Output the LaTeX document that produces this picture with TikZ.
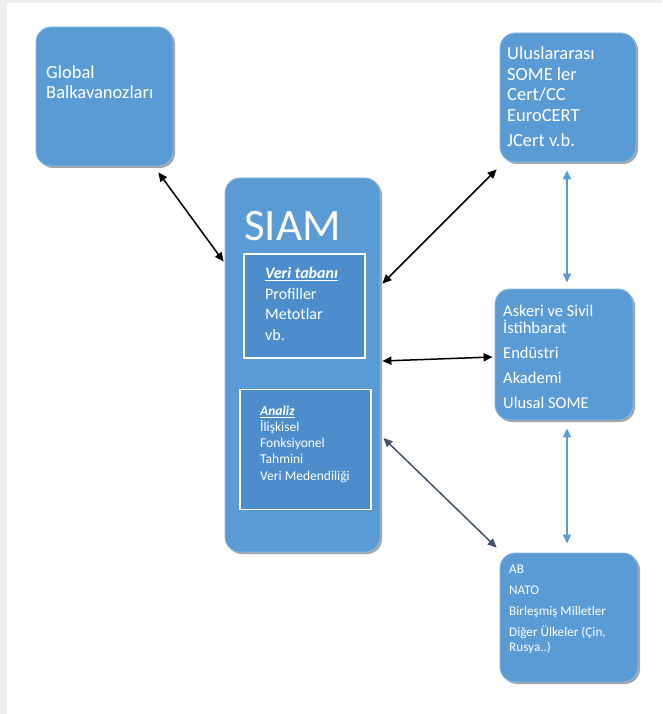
\documentclass[tikz,border=0pt]{standalone}
\usepackage{fontspec}
\setmainfont{Carlito}
\usepackage{tikz}
\usetikzlibrary{arrows.meta, positioning, shadows}

\definecolor{boxblue}{RGB}{91,155,213}
\definecolor{innerblue}{RGB}{78,141,204}
\definecolor{slate}{RGB}{68,84,106}
\definecolor{framegray}{RGB}{238,238,238}

\tikzset{
  bigbox/.style={rounded corners=15pt, fill=boxblue, draw=boxblue!70!white, line width=0.8pt,
    drop shadow={shadow xshift=2pt, shadow yshift=-2pt, fill=black!70, opacity=0.5}},
  innerbox/.style={draw=white, line width=1.8pt, fill=innerblue},
  boxtext/.style={anchor=base west, inner sep=0pt, align=left, text=white},
  blkarrow/.style={{Triangle[length=9pt,width=8pt]}-{Triangle[length=9pt,width=8pt]}, line width=1.5pt, black},
  slatearrow/.style={{Triangle[length=9pt,width=8pt]}-{Triangle[length=9pt,width=8pt]}, line width=1.5pt, slate},
  bluearrow/.style={{Triangle[length=9pt,width=8pt]}-{Triangle[length=9pt,width=8pt]}, line width=1.3pt, boxblue}
}

\begin{document}
\begin{tikzpicture}[x=1pt, y=-1pt]

\fill[framegray] (0,0) rectangle (662,714);
\fill[white] (7,3) rectangle (662,714);
\useasboundingbox (0,0) rectangle (662,714);

% boxes
\node[bigbox, minimum width=137pt, minimum height=139pt] (glob) at (104.5,96.5) {};
\node[bigbox, minimum width=155pt, minimum height=374pt] (siam) at (302.5,365) {};
\node[bigbox, minimum width=136pt, minimum height=129pt] (intl) at (568,97.5) {};
\node[bigbox, minimum width=138pt, minimum height=131pt] (askeri) at (564,354.5) {};
\node[bigbox, minimum width=138pt, minimum height=129pt] (ab) at (569,617.5) {};

\node[innerbox, minimum width=121pt, minimum height=104pt] (veri) at (304.5,306) {};
\node[innerbox, minimum width=131pt, minimum height=120pt] (analiz) at (305.5,449.5) {};

% texts (anchored on the last line)
\node[boxtext, font=\fontsize{18.5}{20}\selectfont] (globtxt) at (46,99) {Global\\Balkavanozları};
\node[boxtext, font=\fontsize{18.5}{20.5}\selectfont] (intltxt) at (507,147)
  {Uluslararası\\SOME ler\\Cert/CC\\EuroCERT\\[5pt]JCert v.b.};
\node[boxtext, font=\fontsize{45}{48}\selectfont] (siamtxt) at (244,240) {SIAM};
\node[boxtext, font=\fontsize{16}{20.5}\selectfont] (veritxt) at (265,340)
  {\underline{\textbf{\textit{Veri tabanı}}}\\Profiller\\Metotlar\\vb.};
\node[boxtext, font=\fontsize{13.5}{16.2}\selectfont] (analiztxt) at (260,480)
  {\underline{\textbf{\textit{Analiz}}}\\İlişkisel\\Fonksiyonel\\Tahmini\\Veri Medendiliği};
\node[boxtext, font=\fontsize{16.5}{17}\selectfont] (askeritxt) at (503,408)
  {Askeri ve Sivil\\İstihbarat\\[8pt]Endüstri\\[8pt]Akademi\\[8pt]Ulusal SOME};
\node[boxtext, font=\fontsize{13.2}{21}\selectfont] (abtxt) at (509,651)
  {AB\\NATO\\Birleşmiş Milletler\\Diğer Ülkeler (Çin,\\[-6.5pt]Rusya..)};

% connectors
\draw[blkarrow] ([xshift=-15pt, yshift=-6pt]glob.south east) -- ([xshift=-1pt, yshift=-84pt]siam.north west);
\draw[blkarrow] ([xshift=2pt, yshift=-106pt]siam.north east) -- ([xshift=-3pt, yshift=-7pt]intl.south west);
\draw[blkarrow] ([xshift=2pt, yshift=4pt]siam.east) -- ([xshift=-2pt, yshift=-2.5pt]askeri.west);
\draw[slatearrow] ([xshift=3pt, yshift=-73pt]siam.east) -- ([xshift=-3pt, yshift=5pt]ab.north west);
\draw[bluearrow] ([xshift=-1pt, yshift=-8pt]intl.south) -- ([xshift=3pt, yshift=6pt]askeri.north);
\draw[bluearrow] ([xshift=3pt, yshift=-8pt]askeri.south) -- ([xshift=-2pt, yshift=9pt]ab.north);

\end{tikzpicture}
\end{document}
